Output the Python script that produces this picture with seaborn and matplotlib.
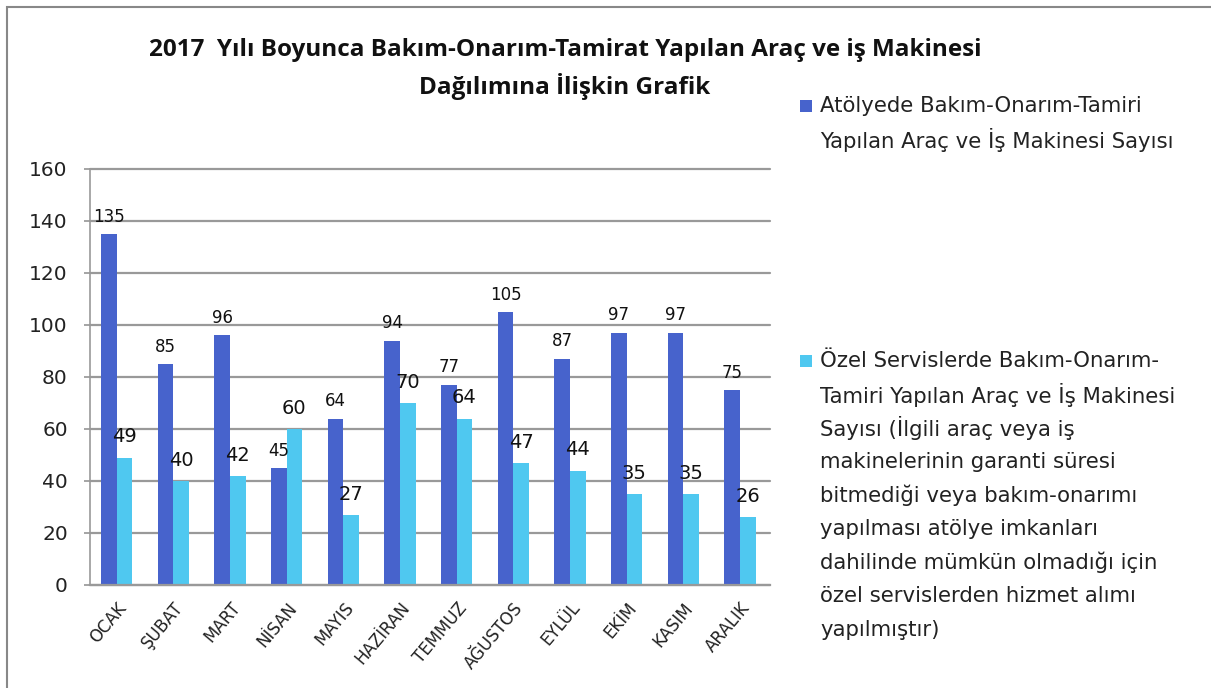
import numpy as np
import pandas as pd
import matplotlib
matplotlib.use("Agg")
import matplotlib.pyplot as plt
from matplotlib.patches import Rectangle
import seaborn as sns

months = ["OCAK", "ŞUBAT", "MART", "NİSAN", "MAYIS", "HAZİRAN", "TEMMUZ",
          "AĞUSTOS", "EYLÜL", "EKİM", "KASIM", "ARALIK"]
atolye = [135, 85, 96, 45, 64, 94, 77, 105, 87, 97, 97, 75]
ozel = [49, 40, 42, 60, 27, 70, 64, 47, 44, 35, 35, 26]
series_names = ["Atölye", "Özel"]
legend1_lines = ["Atölyede Bakım-Onarım-Tamiri",
                 "Yapılan Araç ve İş Makinesi Sayısı"]
legend2_lines = ["Özel Servislerde Bakım-Onarım-",
                 "Tamiri Yapılan Araç ve İş Makinesi",
                 "Sayısı (İlgili araç veya iş",
                 "makinelerinin garanti süresi",
                 "bitmediği veya bakım-onarımı",
                 "yapılması atölye imkanları",
                 "dahilinde mümkün olmadığı için",
                 "özel servislerden hizmet alımı",
                 "yapılmıştır)"]
title_lines = ["2017  Yılı Boyunca Bakım-Onarım-Tamirat Yapılan Araç ve iş Makinesi",
               "Dağılımına İlişkin Grafik"]
yticks = [0, 20, 40, 60, 80, 100, 120, 140, 160]

c_dark = "#4763CC"
c_light = "#4FC8F0"

sns.set_theme(style="white")
plt.rcParams['font.family'] = ['Open Sans', 'DejaVu Sans']

df = pd.DataFrame({
    "month": months * 2,
    "value": atolye + ozel,
    "series": [series_names[0]] * 12 + [series_names[1]] * 12,
})

W, H = 1211, 688
fig = plt.figure(figsize=(W / 100, H / 100), dpi=100)
ax = fig.add_axes([90 / W, 1 - 585 / H, (770 - 90) / W, (585 - 169) / H])

sns.barplot(data=df, x="month", y="value", hue="series", order=months,
            hue_order=series_names, palette=[c_dark, c_light], width=0.55,
            dodge=True, ax=ax, legend=False, saturation=1, errorbar=None,
            linewidth=0, edgecolor="none")

ax.set_ylim(0, 160)
ax.set_xlim(-0.47, 11.53)
ax.set_yticks(yticks)
ax.set_yticklabels([str(v) for v in yticks], fontsize=14.5, color="#222222",
                   family=['DejaVu Sans'])
ax.set_xlabel("")
ax.set_ylabel("")
ax.yaxis.grid(True, color="#999999", linewidth=1.6)
for gl in ax.get_ygridlines():
    gl.set_clip_on(False)
ax.set_axisbelow(True)
for s in ["top", "right"]:
    ax.spines[s].set_visible(False)
ax.spines["left"].set_color("#999999")
ax.spines["bottom"].set_color("#999999")
ax.spines["left"].set_linewidth(1.2)
ax.spines["bottom"].set_linewidth(1.6)
ax.tick_params(axis="y", left=True, length=4, color="#999999", pad=12)
ax.tick_params(axis="x", bottom=False, pad=4)
ax.set_xticks(range(12))
ax.set_xticklabels(months, rotation=50, ha="right", rotation_mode="anchor",
                   fontsize=12, color="#222222", family=['DejaVu Sans'])

# data labels
cont_dark, cont_light = ax.containers[0], ax.containers[1]
ax.bar_label(cont_dark, labels=[str(v) for v in atolye], padding=6,
             fontsize=12, color="#111111", family=['DejaVu Sans'])
ax.bar_label(cont_light, labels=[str(v) for v in ozel], padding=8,
             fontsize=14, color="#111111", family=['DejaVu Sans'])

# title
for i, line in enumerate(title_lines):
    fig.text(565 / W, 1 - (50 + 36 * i) / H, line, ha="center", va="center",
             fontsize=17.5, fontweight="bold", color="#111111")

# legends
def draw_legend(lines, y0, color, spacing=34):
    fig.patches.append(Rectangle((800 / W, 1 - (y0 + 6) / H), 12 / W, 12 / H,
                                 transform=fig.transFigure, facecolor=color,
                                 edgecolor="none"))
    for i, line in enumerate(lines):
        fig.text(820 / W, 1 - (y0 + i * spacing) / H, line, ha="left",
                 va="center", fontsize=15.3, color="#222222",
                 family=['DejaVu Sans'])

draw_legend(legend1_lines, 106, c_dark)
draw_legend(legend2_lines, 361, c_light, spacing=33.6)

# border
fig.patches.append(Rectangle((7 / W, -0.1), 1.2, 1 - 7 / H + 0.1,
                             transform=fig.transFigure, facecolor="none",
                             edgecolor="#888888", linewidth=1.5))

fig.savefig("out.png", dpi=100)
